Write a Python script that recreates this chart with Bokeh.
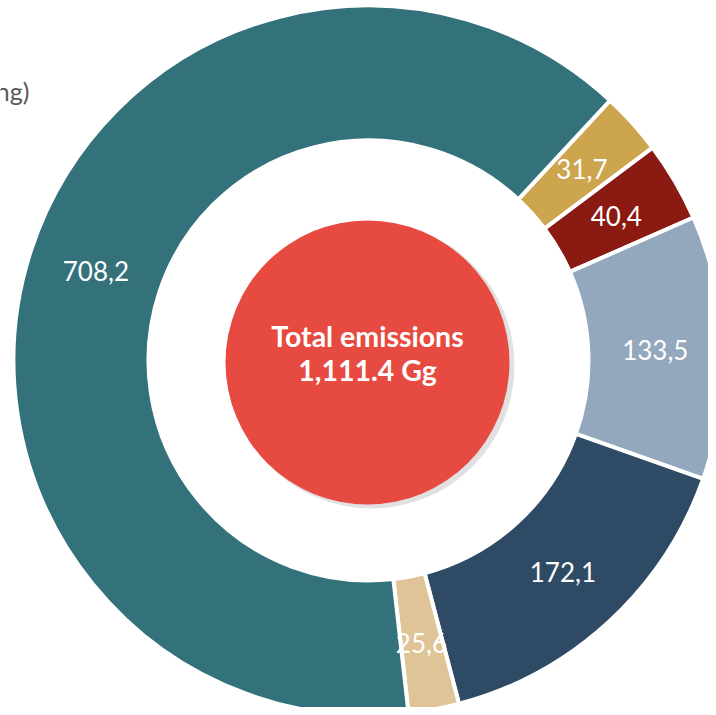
import math
from bokeh.plotting import figure
from bokeh.models import ColumnDataSource
from bokeh.core.properties import value
from bokeh.embed import file_html
from bokeh.resources import INLINE

# Data (clockwise order starting at top-right)
categories = ["A", "B", "C", "D", "E", "F"]
values = [31.7, 40.4, 133.5, 172.1, 25.6, 708.2]
labels = ["31,7", "40,4", "133,5", "172,1", "25,6", "708,2"]
colors = ["#CCA54E", "#8A1A12", "#93A8BC", "#2E4A64", "#DFC497", "#34727B"]
total_text = ["Total emissions", "1,111.4 Gg"]

# Layout: data units = image pixels (y measured upward from 715)
W, H = 708, 707
cx, cy = 368, 715 - 360
r_in, r_out = 220, 355
r_lab = 287
start_deg = 42.9  # clockwise from 12 o'clock

p = figure(width=W, height=H, x_range=(0, W), y_range=(715 - H, 715),
           output_backend="svg", toolbar_location=None, min_border=0)
p.axis.visible = False
p.grid.visible = False
p.outline_line_color = None
p.background_fill_color = "white"
p.border_fill_color = "white"

tot = sum(values)
starts, ends, lx, ly = [], [], [], []
acc = start_deg
for v in values:
    a0 = acc
    a1 = acc + v / tot * 360.0
    starts.append(math.radians(90 - a0))
    ends.append(math.radians(90 - a1))
    mid = math.radians(90 - (a0 + a1) / 2)
    lx.append(cx + r_lab * math.cos(mid))
    ly.append(cy + r_lab * math.sin(mid))
    acc = a1

src = ColumnDataSource(dict(cat=categories, val=values, lab=labels, col=colors,
                            s=starts, e=ends, lx=lx, ly=ly))
p.annular_wedge(x=cx, y=cy, inner_radius=r_in, outer_radius=r_out,
                start_angle="s", end_angle="e", direction="clock",
                fill_color="col", line_color="white", line_width=4, source=src)
p.text(x="lx", y="ly", text="lab", text_color="white", text_align="center",
       text_baseline="middle", text_font=value("Lato"), text_font_size="26px",
       source=src)

# central circle with soft shadow
p.circle(x=cx + 3, y=cy - 5, radius=143, fill_color="#9a9a9a", fill_alpha=0.3,
         line_color=None)
p.circle(x=cx - 1, y=cy - 2, radius=142, fill_color="#E64A40", line_color=None)
p.text(x=[cx - 1, cx - 1], y=[715 - 335, 715 - 369], text=total_text,
       text_color="white", text_align="center", text_baseline="middle",
       text_font=value("Lato"), text_font_style="bold", text_font_size="28.5px")

# cropped title fragment at top-left
p.text(x=[29], y=[715 - 90], text=["ng)"], text_color="#595959",
       text_align="right", text_baseline="middle",
       text_font=value("Lato"), text_font_size="25px")

open("out.html", "w").write(file_html(p, INLINE))
